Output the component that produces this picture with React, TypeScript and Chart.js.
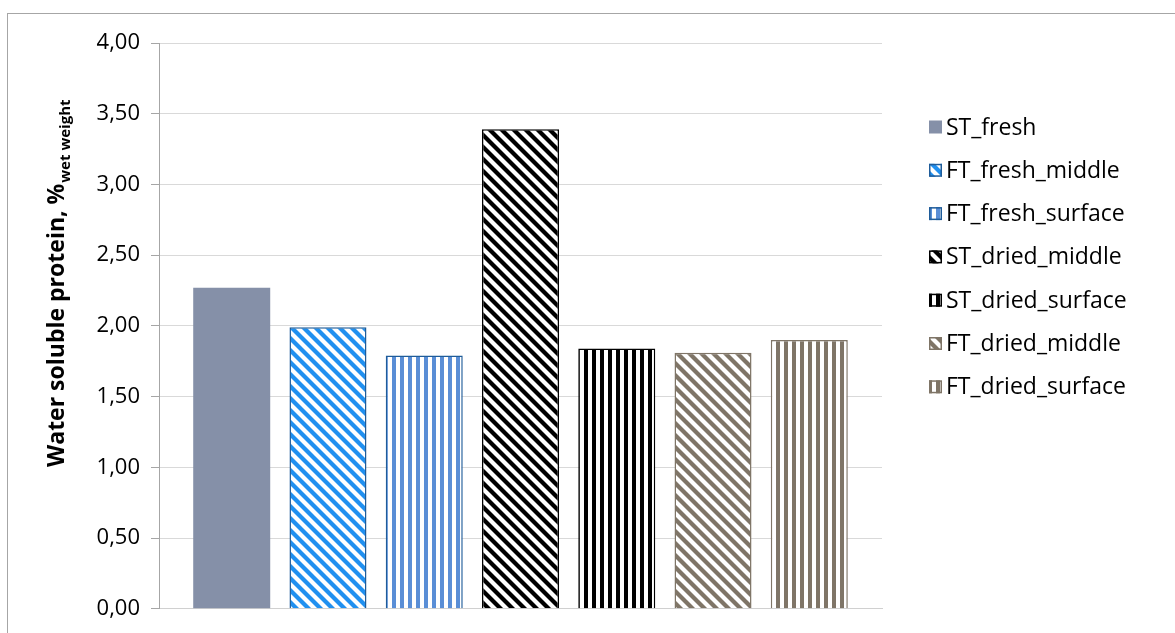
import React, { useEffect, useRef } from "react";
import { Chart, registerables } from "chart.js";

Chart.register(...registerables);

// ---- data ----
const categories = [""];
const seriesNames = [
  "ST_fresh",
  "FT_fresh_middle",
  "FT_fresh_surface",
  "ST_dried_middle",
  "ST_dried_surface",
  "FT_dried_middle",
  "FT_dried_surface",
];
const seriesValues = [2.27, 1.99, 1.79, 3.39, 1.84, 1.81, 1.9];
const yTickValues = [0, 0.5, 1, 1.5, 2, 2.5, 3, 3.5, 4];
const yTitleMain = "Water soluble protein, %";
const yTitleSub = "wet weight";

// ---- styles ----
const fillKinds = ["solid", "diag", "vert", "diag", "vert", "diag", "vert"];
const fillColors = ["#8590a8", "#2090f0", "#5a8ed6", "#000000", "#000000", "#7f7567", "#7f7567"];
const borderColors = ["#8590a8", "#1f5c99", "#1f5c99", "#000000", "#000000", "#7f7567", "#7f7567"];
const FONT = "'Open Sans', 'Noto Sans', sans-serif";

function makeFill(ctx: CanvasRenderingContext2D, kind: string, color: string): any {
  if (kind === "solid") return color;
  const c = document.createElement("canvas");
  const g = c.getContext("2d")!;
  if (kind === "vert") {
    c.width = 8;
    c.height = 8;
    g.fillStyle = "#ffffff";
    g.fillRect(0, 0, 8, 8);
    g.fillStyle = color;
    g.fillRect(0, 0, 4, 8);
  } else {
    const s = 12;
    c.width = s;
    c.height = s;
    g.fillStyle = "#ffffff";
    g.fillRect(0, 0, s, s);
    g.strokeStyle = color;
    g.lineWidth = 4.2;
    for (const o of [-s, 0, s]) {
      g.beginPath();
      g.moveTo(o - 2, -2);
      g.lineTo(o + s + 2, s + 2);
      g.stroke();
    }
  }
  return ctx.createPattern(c, "repeat");
}

const decor = {
  id: "decor",
  beforeDraw(chart: any) {
    const ctx = chart.ctx as CanvasRenderingContext2D;
    ctx.save();
    ctx.fillStyle = "#ffffff";
    ctx.fillRect(0, 0, chart.width, chart.height);
    ctx.strokeStyle = "#a6a6a6";
    ctx.lineWidth = 1;
    ctx.strokeRect(7.5, 13.5, 3000, 3000);
    ctx.restore();
  },
  afterDraw(chart: any) {
    const ctx = chart.ctx as CanvasRenderingContext2D;
    // y-axis title with subscript
    ctx.save();
    ctx.translate(64, 467);
    ctx.rotate(-Math.PI / 2);
    ctx.fillStyle = "#000000";
    ctx.textBaseline = "alphabetic";
    ctx.textAlign = "left";
    ctx.font = `bold 23px ${FONT}`;
    ctx.fillText(yTitleMain, 0, 0);
    const w = ctx.measureText(yTitleMain).width;
    ctx.font = `bold 15px ${FONT}`;
    ctx.fillText(yTitleSub, w + 1, 6);
    ctx.restore();

    // legend
    const ds = chart.data.datasets;
    ctx.save();
    ctx.font = `23px ${FONT}`;
    ctx.textBaseline = "middle";
    ctx.textAlign = "left";
    const x0 = 929;
    const y0 = 127;
    const step = 43.3;
    ds.forEach((d: any, i: number) => {
      const cy = y0 + i * step;
      ctx.fillStyle = d.backgroundColor;
      ctx.fillRect(x0, cy - 6.5, 13, 13);
      if (i > 0) {
        ctx.strokeStyle = d.borderColor;
        ctx.lineWidth = 1.5;
        ctx.strokeRect(x0 + 0.75, cy - 5.75, 11.5, 11.5);
      }
      ctx.fillStyle = "#000000";
      ctx.fillText(d.label, x0 + 17, cy + 1);
    });
    ctx.restore();
  },
};

export default function App() {
  const ref = useRef<HTMLCanvasElement | null>(null);
  useEffect(() => {
    const canvas = ref.current!;
    const ctx = canvas.getContext("2d")!;
    const datasets = seriesNames.map((name, i) => ({
      label: name,
      data: [seriesValues[i]],
      backgroundColor: makeFill(ctx, fillKinds[i], fillColors[i]),
      borderColor: borderColors[i],
      borderWidth: i === 0 ? 0 : 1.5,
      categoryPercentage: 0.932,
      barPercentage: 0.8,
    }));
    const chart = new Chart(ctx, {
      type: "bar",
      data: { labels: categories, datasets },
      options: {
        animation: false,
        responsive: false,
        layout: { padding: { top: 43, right: 293, left: 0, bottom: 0 } },
        plugins: { legend: { display: false }, tooltip: { enabled: false } },
        scales: {
          x: {
            ticks: { display: false },
            grid: { display: false, drawTicks: false },
            border: { display: true, color: "#d0d0d0", width: 1 },
            afterFit: (s: any) => {
              s.height = 22;
            },
          },
          y: {
            min: 0,
            max: 4,
            afterBuildTicks: (s: any) => {
              s.ticks = yTickValues.map((v) => ({ value: v }));
            },
            ticks: {
              padding: 11,
              color: "#000000",
              font: { family: FONT, size: 22 },
              callback: (v: any) => Number(v).toFixed(2).replace(".", ","),
            },
            grid: { color: "#d9d9d9", tickColor: "#a6a6a6", tickLength: 8, lineWidth: 1 },
            border: { display: true, color: "#a6a6a6", width: 1 },
            afterFit: (s: any) => {
              s.width = 159;
            },
          },
        },
      },
      plugins: [decor],
    });
    return () => chart.destroy();
  }, []);
  return (
    <div style={{ position: "fixed", left: 0, top: 0, width: 1175, height: 633, background: "#fff" }}>
      <canvas ref={ref} width={1175} height={633} style={{ display: "block" }} />
    </div>
  );
}
